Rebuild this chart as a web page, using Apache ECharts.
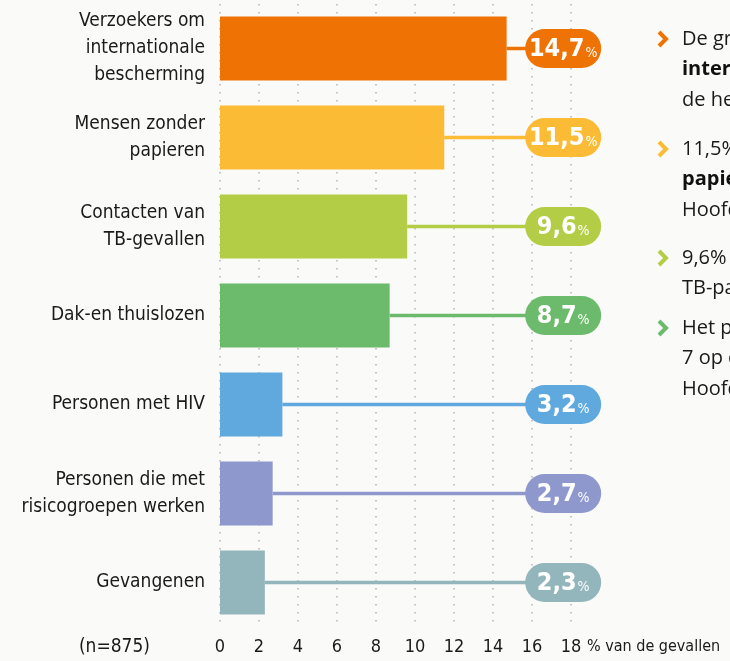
<!DOCTYPE html>
<html>
<head>
<meta charset="utf-8">
<script src="https://cdn.jsdelivr.net/npm/echarts@6/dist/echarts.min.js"></script>
<style>
  html, body { margin: 0; padding: 0; background: #fafaf8; }
  #chart { width: 730px; height: 661px; }
</style>
</head>
<body>
<div id="chart"></div>
<script>
const categories = [
  'Verzoekers om\ninternationale\nbescherming',
  'Mensen zonder\npapieren',
  'Contacten van\nTB-gevallen',
  'Dak-en thuislozen',
  'Personen met HIV',
  'Personen die met\nrisicogroepen werken',
  'Gevangenen'
]
const values = [14.7, 11.5, 9.6, 8.7, 3.2, 2.7, 2.3]
const colors = ['#ee7304', '#fbbb34', '#b4cd46', '#6cbb6c', '#5fa9de', '#8e98cc', '#93b6bc']
const xTicks = [0, 2, 4, 6, 8, 10, 12, 14, 16, 18]
const sampleNote = '(n=875)'
const unitNote = '% van de gevallen'

// side notes (cut off by the right edge in the original)
const notes = [
  { color: colors[0], lines: ['De grootste groep zijn verzoekers om', '{b|internationale bescherming}', 'de helft van de gevallen'] },
  { color: colors[1], lines: ['11,5% van de gevallen zijn', '{b|papierlozen}', 'Hoofdzakelijk'] },
  { color: colors[2], lines: ['9,6% van de gevallen zijn', 'TB-patiënten'] },
  { color: colors[3], lines: ['Het percentage', '7 op de 10', 'Hoofdzakelijk'] }
]
const noteY = [39, 149, 258, 328]

const COND = '"Liberation Sans Narrow", "DejaVu Sans Condensed", sans-serif'
const PILL_FROM = 15.65

const chart = echarts.init(document.getElementById('chart'))

const graphics = []
notes.forEach((n, i) => {
  const y0 = noteY[i]
  graphics.push({
    type: 'polyline',
    shape: { points: [[659, y0 - 7], [666, y0], [659, y0 + 7]] },
    style: { stroke: n.color, lineWidth: 4, fill: null }
  })
  n.lines.forEach((t, j) => {
    graphics.push({
      type: 'text',
      x: 682, y: y0 + j * 30.5,
      style: {
        text: t, fill: '#1a1a1a', font: '20px "Open Sans", sans-serif',
        verticalAlign: 'middle',
        rich: { b: { fontWeight: 'bold', fontSize: 20, fontFamily: '"Open Sans", sans-serif', fill: '#111' } }
      }
    })
  })
})
graphics.push({
  type: 'text', x: 150, y: 647,
  style: { text: sampleNote, font: '19px ' + COND, fill: '#1a1a1a', align: 'right', verticalAlign: 'middle' }
})
graphics.push({
  type: 'text', x: 587, y: 647,
  style: { text: unitNote, font: '16px ' + COND, fill: '#1a1a1a', align: 'left', verticalAlign: 'middle' }
})

chart.setOption({
  backgroundColor: '#fafaf8',
  animation: false,
  grid: { left: 220, right: 159, top: 4, bottom: 34 },
  xAxis: {
    type: 'value', min: 0, max: 18, interval: 2,
    axisLine: { show: false }, axisTick: { show: false },
    axisLabel: { color: '#1a1a1a', fontSize: 18, fontFamily: COND, margin: 11,
      formatter: v => xTicks.includes(v) ? String(v) : '' },
    splitLine: { show: true, lineStyle: { color: '#b5b5b5', width: 1.5, type: [1.5, 6.5] } }
  },
  yAxis: {
    type: 'category', data: categories, inverse: true,
    axisLine: { show: false }, axisTick: { show: false },
    axisLabel: { color: '#1a1a1a', fontSize: 19, fontFamily: COND, lineHeight: 27, margin: 15, align: 'right' }
  },
  graphic: graphics,
  series: [
    {
      type: 'bar',
      data: values.map((v, i) => ({ value: v, itemStyle: { color: colors[i] } })),
      barWidth: 64,
      z: 3
    },
    {
      type: 'custom',
      clip: false,
      z: 2,
      data: values.map((v, i) => [v, i]),
      renderItem: (params, api) => {
        const v = api.value(0), idx = api.value(1)
        const s = api.coord([v, idx])
        const p = api.coord([PILL_FROM, idx])
        const c = colors[idx]
        const w = 76, h = 39
        return {
          type: 'group',
          children: [
            { type: 'line', shape: { x1: s[0], y1: s[1], x2: p[0] + 2, y2: s[1] }, style: { stroke: c, lineWidth: 3.5 } },
            { type: 'rect', shape: { x: p[0], y: s[1] - h / 2, width: w, height: h, r: h / 2 }, style: { fill: c } },
            {
              type: 'text', x: p[0] + w / 2, y: s[1] + 1,
              style: {
                text: '{n|' + v.toFixed(1).replace('.', ',') + '}{p|%}',
                align: 'center', verticalAlign: 'middle',
                rich: {
                  n: { fontSize: 25, fontWeight: 'bold', fontFamily: COND, fill: '#fff' },
                  p: { fontSize: 14, fontFamily: COND, fill: '#fff', padding: [7, 0, 0, 1] }
                }
              }
            }
          ]
        }
      }
    }
  ]
})
</script>
</body>
</html>
